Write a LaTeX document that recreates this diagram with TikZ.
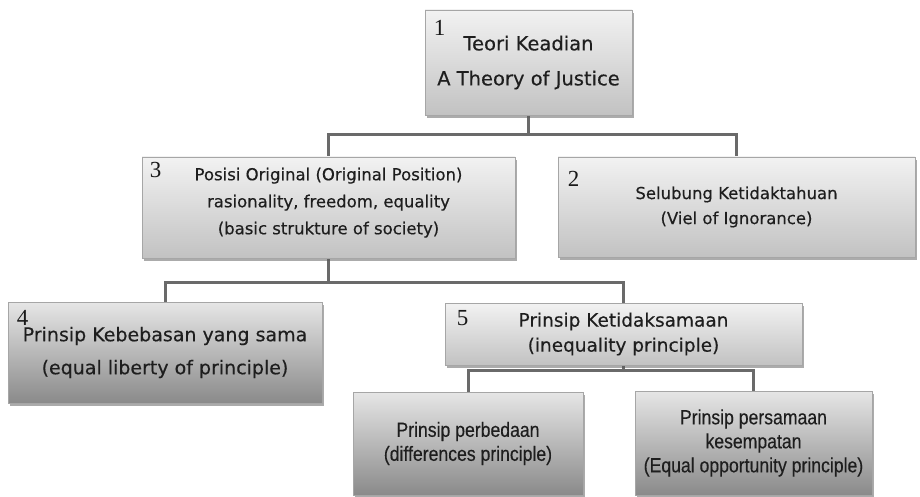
\documentclass[tikz,border=0pt]{standalone}
\usepackage{fontspec}
\usetikzlibrary{calc, shadows, backgrounds}
\newfontfamily\boxfont[FakeBold=0.35]{DejaVu Sans}
\newfontfamily\numfont{Liberation Serif}
\newfontfamily\narrowfont[FakeStretch=0.86, FakeBold=0.3]{Liberation Sans}
\definecolor{lightfill}{HTML}{F2F2F2}
\definecolor{lightbase}{HTML}{C2C2C2}
\definecolor{darkfill}{HTML}{E6E6E6}
\definecolor{darkbase}{HTML}{8A8A8A}
\definecolor{boxline}{HTML}{A6A6A6}
\definecolor{boxtext}{HTML}{1E1E1E}
\definecolor{connline}{HTML}{6A6A6A}
\tikzset{
  base/.style={
    draw=boxline,
    line width=0.8pt,
    align=center,
    inner sep=0pt,
    text=boxtext,
    drop shadow={shadow xshift=2pt, shadow yshift=-3pt, opacity=0.5, fill=black!65},
  },
  light/.style={base, top color=lightfill, bottom color=lightbase},
  dark/.style={base, top color=darkfill, bottom color=darkbase},
  numlbl/.style={
    font=\numfont\fontsize{23}{23}\selectfont,
    anchor=north west,
    inner sep=0pt,
    text=black!90,
  },
  conn/.style={draw=connline, line width=3pt},
}
% box with a number in its top left corner
\newcommand{\numnode}[5][]{%
  \node[#1, label={[numlbl, #4]north west:#3}] (#2) {#5}%
}

\begin{document}
\begin{tikzpicture}[x=1pt, y=-1pt]
\useasboundingbox (0,0) rectangle (920,497);

% Top
\numnode[light, minimum width=207pt, minimum height=105pt, at={(528.5,62.5)},
  font=\boxfont\fontsize{19.5}{35}\selectfont]{n1}{1}{xshift=9pt, yshift=-11pt}{Teori Keadian\\A Theory of Justice};

% Row 2
\numnode[light, minimum width=373pt, minimum height=101pt, at={(328.5,207.5)},
  font=\boxfont\fontsize{16.5}{27}\selectfont]{n3}{3}{xshift=8pt, yshift=-5pt}{Posisi Original (Original Position)\\rasionality, freedom, equality\\(basic strukture of society)\\[-14pt]};
\numnode[light, minimum width=357pt, minimum height=100pt, at={(736.5,207)},
  font=\boxfont\fontsize{16.5}{25}\selectfont]{n2}{2}{xshift=10pt, yshift=-14pt}{Selubung Ketidaktahuan\\(Viel of Ignorance)};

% Row 3
\numnode[dark, minimum width=314pt, minimum height=101pt, at={(165,352.5)},
  font=\boxfont\fontsize{19}{33}\selectfont]{n4}{4}{xshift=9pt, yshift=-9pt}{Prinsip Kebebasan yang sama\\(equal liberty of principle)};
\numnode[light, minimum width=357pt, minimum height=62pt, at={(623.5,334)},
  font=\boxfont\fontsize{18.5}{25}\selectfont]{n5}{5}{xshift=12pt, yshift=-8pt}{Prinsip Ketidaksamaan\\(inequality principle)};

% Row 4
\node[dark, minimum width=230pt, minimum height=103pt, font=\narrowfont\fontsize{20.5}{24}\selectfont]
  (n6) at (468,443.5) {Prinsip perbedaan\\(differences principle)};
\node[dark, minimum width=237pt, minimum height=104pt, font=\narrowfont\fontsize{20.5}{24}\selectfont]
  (n7) at (753.5,443) {Prinsip persamaan\\kesempatan\\(Equal opportunity principle)};

% --- Connectors --------------------------------------------------------
\begin{scope}[on background layer]
  \fill[white] (0,0) rectangle (920,497);
  \coordinate (j1) at ($(n1.south)+(0,19)$);
  \coordinate (j2) at ($(n3.south)+(0,24)$);
  \coordinate (j3) at ($(n5.south)+(0,5)$);
  \draw[conn] (n1.south) -- (j1);
  \draw[conn] (n3.north) |- (j1) -| (n2.north);
  \draw[conn] (n3.south) -- (j2);
  \draw[conn] (n4.north) |- (j2) -| (n5.north);
  \draw[conn] (n5.south) -- (j3);
  \draw[conn] (n6.north) |- (j3) -| (n7.north);
\end{scope}

\end{tikzpicture}
\end{document}
